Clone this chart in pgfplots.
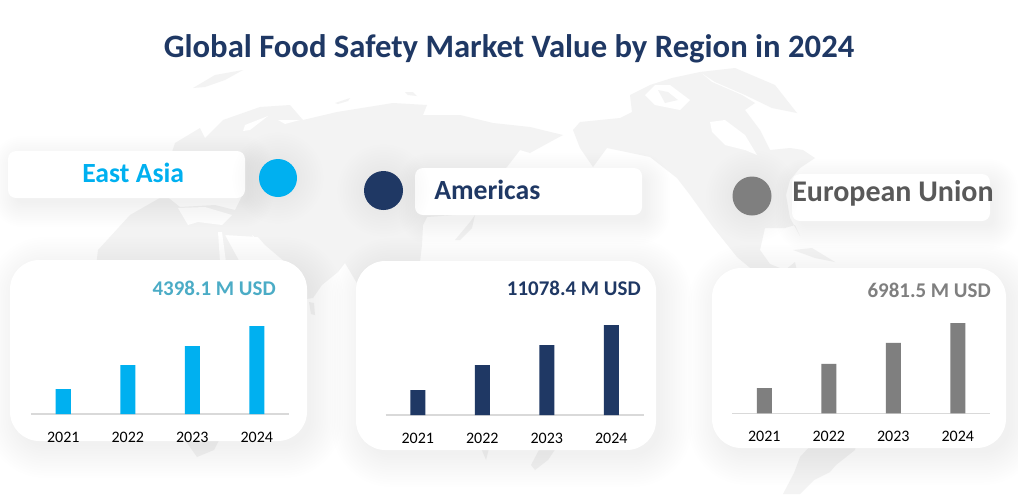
\documentclass[border=0pt]{standalone}
\usepackage{pgfplots}
\pgfplotsset{compat=1.18}
\usepackage{fontspec}
\setmainfont{Carlito}
\definecolor{cyanb}{HTML}{00B0F0}
\definecolor{navy}{HTML}{1F3864}
\definecolor{grayb}{HTML}{7F7F7F}
\definecolor{teal1}{HTML}{4BACC6}
\definecolor{mapg}{HTML}{F3F3F3}
\definecolor{darkg}{HTML}{595959}
\definecolor{axisg}{HTML}{D9D9D9}
\newcommand{\softbox}[7]{% x1 y1 x2 y2 radius(pt) spread opacity
  \foreach \i in {1,...,14}{
    \pgfmathsetmacro{\e}{#6*(15-\i)/14-4}
    \pgfmathsetmacro{\rr}{max(#5+\e*0.75,2)}
    \fill[black,opacity=#7,rounded corners=\rr pt] (#1-\e+6,#2-\e+7) rectangle (#3+\e+6,#4+\e+7);
  }
  \fill[white,rounded corners=#5pt] (#1,#2) rectangle (#3,#4);
}
\pgfplotsset{panel/.style={
  scale only axis,
  width=193.5pt,height=75pt,
  anchor=south west,
  xmin=-0.5,xmax=3.5,ymin=0,
  axis x line=bottom,
  axis y line=none,
  axis line style={axisg,line width=0.8pt,-},
  xtick=data,
  xticklabels={2021,2022,2023,2024},
  major tick style={draw=none},
  x tick label style={font=\fontsize{12}{14}\selectfont,text=black,yshift=-5.5pt},
  ybar,bar width=11.25pt,
  clip=false
}}
\begin{document}
\begin{tikzpicture}[x=0.75pt,y=-0.75pt]
\clip (0,0) rectangle (1018,494);
\fill[white] (0,0) rectangle (1018,494);
% decorative world map
\fill[mapg] (175,143) -- (200,128) -- (205,138) -- (223,120) -- (260,107) -- (290,105) -- (303,120) -- (337,112) -- (393,103) -- (427,105) -- (423,115) -- (460,115) -- (493,123) -- (530,127) -- (563,135) -- (550,142) -- (530,153) -- (520,150) -- (507,167) -- (480,190) -- (455,215) -- (427,217) -- (423,225) -- (422,245) -- (420,262) -- (400,300) -- (358,285) -- (345,263) -- (338,272) -- (322,285) -- (313,298) -- (300,300) -- (285,262) -- (265,245) -- (258,237) -- (225,235) -- (255,290) -- (280,290) -- (262,320) -- (245,350) -- (245,390) -- (214,450) -- (197,457) -- (185,440) -- (170,370) -- (155,350) -- (110,345) -- (92,300) -- (98,250) -- (130,215) -- (165,195) -- (180,207) -- (215,205) -- (235,210) -- (245,190) -- (205,165) -- (170,158) -- cycle;
\fill[mapg] (193,88) -- (215,75) -- (243,70) -- (225,80) -- (205,87) -- cycle;
\fill[mapg] (335,103) -- (350,98) -- (348,101) -- (338,104) -- cycle;
\fill[mapg] (405,92) -- (413,92) -- (417,96) -- (408,95) -- cycle;
% sea cut-outs
\fill[white] (245,125) -- (268,116) -- (250,130) -- (243,131) -- cycle;
\fill[white] (278,120) -- (300,120) -- (285,124) -- cycle;
\fill[white] (178,208) -- (205,207) -- (232,215) -- (222,225) -- (198,222) -- (188,225) -- cycle;
\fill[white] (218,232) -- (222,232) -- (226,262) -- (220,262) -- cycle;
\fill[white] (252,235) -- (258,240) -- (272,257) -- (265,257) -- cycle;
\fill[white] (440,222) -- (445,215) -- (455,235) -- (450,245) -- cycle;
\fill[mapg] (455,240) -- (470,222) -- (475,215) -- (472,228) -- (460,240) -- cycle;
\fill[mapg] (309,302) -- (314,303) -- (315,315) -- (311,314) -- cycle;
% islands south
\fill[mapg] (481,448) -- (489,448) -- (486,460) -- cycle;
\fill[mapg] (540,448) -- (556,448) -- (548,460) -- (535,470) -- (531,465) -- cycle;
% North America
\fill[mapg] (573,130) -- (580,122) -- (620,118) -- (632,112) -- (630,95) -- (650,85) -- (672,78) -- (700,72) -- (712,82) -- (742,95) -- (755,103) -- (745,110) -- (760,130) -- (770,150) -- (790,148) -- (803,150) -- (815,158) -- (800,168) -- (790,180) -- (786,195) -- (790,218) -- (800,236) -- (795,225) -- (785,228) -- (765,228) -- (760,250) -- (770,264) -- (785,270) -- (795,262) -- (800,285) -- (780,285) -- (755,272) -- (737,257) -- (713,227) -- (690,195) -- (677,178) -- (650,157) -- (607,148) -- (593,167) -- (580,148) -- cycle;
\fill[white] (710,122) -- (725,120) -- (745,135) -- (757,155) -- (745,150) -- (725,145) -- (712,132) -- cycle;
\fill[white] (655,85) -- (670,85) -- (690,100) -- (680,110) -- (655,105) -- (645,95) -- cycle;
\fill[mapg] (658,90) -- (668,92) -- (678,100) -- (665,103) -- cycle;
\fill[mapg] (700,72) -- (735,68) -- (775,85) -- (797,113) -- (772,108) -- (745,95) -- (715,82) -- cycle;
\fill[mapg] (793,250) -- (812,248) -- (835,262) -- (815,258) -- cycle;
% South America
\fill[mapg] (795,285) -- (830,285) -- (880,340) -- (870,385) -- (855,450) -- (836,465) -- (830,472) -- (814,480) -- (800,494) -- (783,494) -- (794,473) -- (800,457) -- (811,445) -- (790,380) -- (765,340) -- cycle;
% panels and labels with soft shadows
\softbox{8}{151}{245}{198}{6}{26}{0.0035}
\softbox{415}{168}{642}{215}{6}{26}{0.0035}
\softbox{792}{174}{990}{221}{6}{26}{0.0035}
\softbox{10}{260}{307}{441}{22}{34}{0.005}
\softbox{356}{261}{656}{450}{22}{34}{0.005}
\softbox{712}{268}{1006}{448}{22}{34}{0.005}
\foreach \cx/\cy/\r/\c in {278/178/19/cyanb,383.5/190.5/19.5/navy,752/196/19.5/grayb}{
  \foreach \i in {1,...,10}{\fill[black,opacity=0.004] (\cx,\cy) circle[radius=\r*0.75pt+\i*2pt];}
  \fill[\c] (\cx,\cy) circle[radius=\r*0.75pt];
}
% text
\node[text=navy,font=\fontsize{24.5}{28}\selectfont\bfseries] at (509,49) {Global Food Safety Market Value by Region in 2024};
\node[anchor=west,inner sep=0pt,text=cyanb,font=\fontsize{20.8}{24}\selectfont\bfseries] at (82,173) {East Asia};
\node[anchor=west,inner sep=0pt,text=navy,font=\fontsize{20.8}{24}\selectfont\bfseries] at (434,190) {Americas};
\node[anchor=west,inner sep=0pt,text=darkg,font=\fontsize{22.5}{26}\selectfont\bfseries] at (792,193) {European Union};
\node[anchor=east,inner sep=0pt,text=teal1,font=\fontsize{15.7}{18}\selectfont\bfseries] at (276,288) {4398.1 M USD};
\node[anchor=east,inner sep=0pt,text=navy,font=\fontsize{15.7}{18}\selectfont\bfseries] at (641,288) {11078.4 M USD};
\node[anchor=east,inner sep=0pt,text=grayb,font=\fontsize{15.7}{18}\selectfont\bfseries] at (991,290) {6981.5 M USD};
% bar charts
\begin{axis}[panel,at={(23.25pt,-310.5pt)},ymax=5000]
\addplot[fill=cyanb,draw=none] coordinates {(0,1250) (1,2450) (2,3400) (3,4398.1)};
\end{axis}
\begin{axis}[panel,at={(289.125pt,-311.25pt)},ymax=12309]
\addplot[fill=navy,draw=none] coordinates {(0,3077) (1,6155) (2,8616) (3,11078.4)};
\end{axis}
\begin{axis}[panel,at={(549pt,-309.975pt)},ymax=7731]
\addplot[fill=grayb,draw=none] coordinates {(0,1955) (1,3812) (2,5436) (3,6981.5)};
\end{axis}
\end{tikzpicture}
\end{document}
